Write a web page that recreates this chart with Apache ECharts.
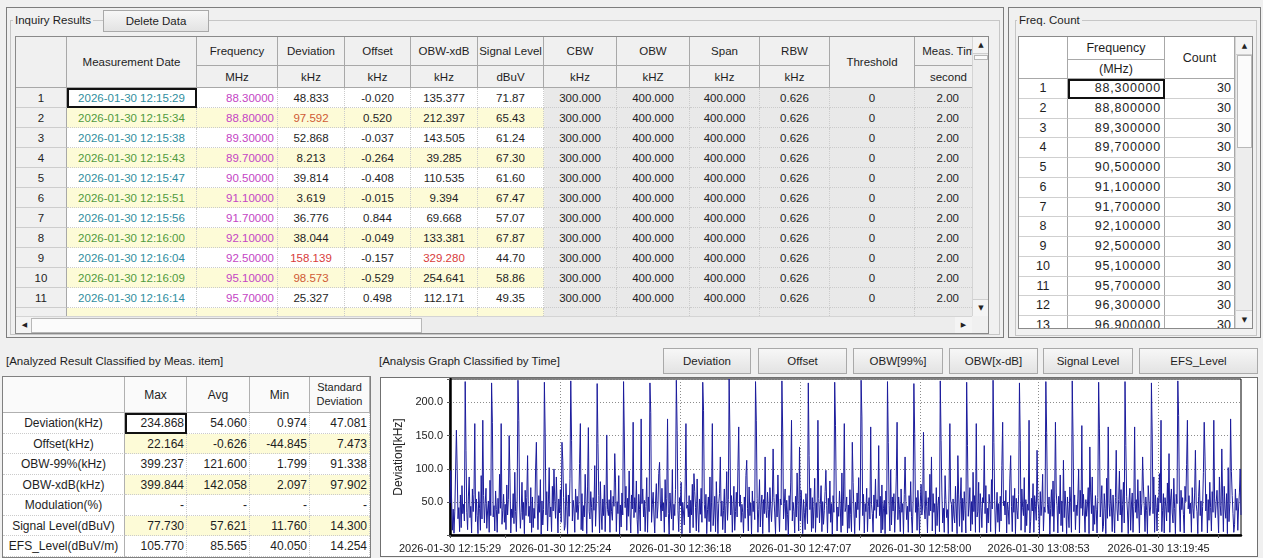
<!DOCTYPE html>
<html>
<head>
<meta charset="utf-8">
<title>Inquiry Results</title>
<script src="https://cdn.jsdelivr.net/npm/echarts@6/dist/echarts.min.js"></script>
<style>
html, body { margin: 0; padding: 0; }
body {
  width: 1263px; height: 558px; overflow: hidden; position: relative;
  background: #f0f0f0; color: #1e1e1e;
  font-family: "Liberation Sans", Arial, sans-serif; font-size: 11.5px;
}
.abs { position: absolute; box-sizing: border-box; }
.c { position: absolute; box-sizing: border-box; white-space: nowrap; overflow: hidden; text-align: center; }
.frame { border: 1px solid #7d7d7d; }
.group { border: 1px solid #c6c6c6; }
.glabel { position: absolute; background: #f0f0f0; padding: 0 2px; line-height: 14px; }
.btn {
  position: absolute; box-sizing: border-box; text-align: center;
  border: 1px solid #a9a9a9; background: linear-gradient(#f7f7f7, #e3e3e3);
}
.view { position: absolute; overflow: hidden; background: #fff; }
.hd { background: #f0f0f0; border-right: 1px solid #a8a8a8; border-bottom: 1px solid #a8a8a8; }
.rh { background: #f0f0f0; border-right: 1px solid #a8a8a8; border-bottom: 1px solid #cdcdcd; }
.dc { border-right: 1px dotted #cbcbcb; border-bottom: 1px dotted #cbcbcb; }
.sel { outline: 2px solid #111; outline-offset: -2px; }
.arrow { font-family: "DejaVu Sans", sans-serif; font-size: 7px; color: #222; }
.label { position: absolute; white-space: nowrap; }
</style>
</head>
<body>

<div class="abs frame" style="left:6px;top:7px;width:998px;height:331px;"></div>
<div class="abs group" style="left:10px;top:20px;width:990px;height:315px;"></div>
<div class="glabel" style="left:13px;top:13px;">Inquiry Results</div>
<div class="btn" style="left:103px;top:10px;width:106px;height:22px;line-height:20px;">Delete Data</div>

<div class="abs frame" style="left:1008px;top:7px;width:253px;height:331px;"></div>
<div class="abs group" style="left:1015px;top:20px;width:242px;height:316px;"></div>
<div class="glabel" style="left:1017px;top:13px;">Freq. Count</div>

<div class="label" style="left:6px;top:355px;">[Analyzed Result Classified by Meas. item]</div>
<div class="label" style="left:379px;top:355px;">[Analysis Graph Classified by Time]</div>

<div class="abs" style="left:380px;top:377px;width:878px;height:180px;border:1px solid #707070;background:#fff;">
  <div id="chart" style="position:absolute;left:0;top:0;width:876px;height:178px;"></div>
</div>

<script>
// ---- inquiry results table ----
var measDates = ["2026-01-30 12:15:29", "2026-01-30 12:15:34", "2026-01-30 12:15:38", "2026-01-30 12:15:43",
  "2026-01-30 12:15:47", "2026-01-30 12:15:51", "2026-01-30 12:15:56", "2026-01-30 12:16:00",
  "2026-01-30 12:16:04", "2026-01-30 12:16:09", "2026-01-30 12:16:14"];
var measFreq = ["88.30000", "88.80000", "89.30000", "89.70000", "90.50000", "91.10000",
  "91.70000", "92.10000", "92.50000", "95.10000", "95.70000"];
var measDev = ["48.833", "97.592", "52.868", "8.213", "39.814", "3.619", "36.776", "38.044", "158.139", "98.573", "25.327"];
var measOffset = ["-0.020", "0.520", "-0.037", "-0.264", "-0.408", "-0.015", "0.844", "-0.049", "-0.157", "-0.529", "0.498"];
var measObwXdb = ["135.377", "212.397", "143.505", "39.285", "110.535", "9.394", "69.668", "133.381", "329.280", "254.641", "112.171"];
var measLevel = ["71.87", "65.43", "61.24", "67.30", "61.60", "67.47", "57.07", "67.87", "44.70", "58.86", "49.35"];
var measCbw = "300.000", measObw = "400.000", measSpan = "400.000", measRbw = "0.626", measThreshold = "0", measTime = "2.00";
var headTop = ["", "Measurement Date", "Frequency", "Deviation", "Offset", "OBW-xdB", "Signal Level",
  "CBW", "OBW", "Span", "RBW", "Threshold", "Meas. Time"];
var headUnit = [null, null, "MHz", "kHz", "kHz", "kHz", "dBuV", "kHz", "kHZ", "kHz", "kHz", null, "second"];

// ---- freq. count table ----
var countFreqs = ["88,300000", "88,800000", "89,300000", "89,700000", "90,500000", "91,100000", "91,700000",
  "92,100000", "92,500000", "95,100000", "95,700000", "96,300000", "96,900000"];
var countValues = [30, 30, 30, 30, 30, 30, 30, 30, 30, 30, 30, 30, 30];

// ---- analyzed result table ----
var statItems = ["Deviation(kHz)", "Offset(kHz)", "OBW-99%(kHz)", "OBW-xdB(kHz)", "Modulation(%)", "Signal Level(dBuV)", "EFS_Level(dBuV/m)"];
var statMax = ["234.868", "22.164", "399.237", "399.844", "-", "77.730", "105.770"];
var statAvg = ["54.060", "-0.626", "121.600", "142.058", "-", "57.621", "85.565"];
var statMin = ["0.974", "-44.845", "1.799", "2.097", "-", "11.760", "40.050"];
var statStd = ["47.081", "7.473", "91.338", "97.902", "-", "14.300", "14.254"];

// ---- graph: deviation per sweep (33 frequencies x 30 sweeps) ----
var deviationSweeps = [
  [48.8, 97.6, 52.9, 8.2, 39.8, 3.6, 36.8, 38.0, 158.1, 98.6, 25.3, 42, 6, 61, 12, 75, 33, 47, 22, 231, 128, 35, 9, 58, 88, 27, 44, 4, 70, 36, 62, 168, 21],
  [55, 30, 3, 66, 41, 8, 90, 25, 173, 60, 19, 48, 71, 11, 37, 52, 5, 83, 30, 229, 170, 28, 45, 7, 67, 39, 5, 56, 33, 92, 41, 168, 17],
  [38, 62, 20, 47, 9, 76, 31, 54, 150, 85, 4, 40, 27, 63, 18, 95, 36, 6, 58, 233, 173, 46, 11, 35, 80, 24, 50, 3, 68, 30, 57, 120, 29],
  [44, 19, 72, 5, 58, 12, 41, 26, 100, 140, 48, 9, 60, 35, 84, 2, 52, 16, 39, 230, 154, 31, 66, 7, 49, 102, 28, 43, 6, 74, 37, 100, 51],
  [26, 88, 40, 4, 55, 34, 69, 20, 140, 113, 57, 8, 15, 78, 44, 3, 61, 29, 86, 232, 143, 22, 53, 40, 5, 70, 35, 59, 24, 47, 108, 168, 9],
  [63, 7, 45, 28, 92, 50, 3, 73, 162, 36, 25, 66, 42, 5, 57, 38, 105, 14, 48, 228, 138, 60, 4, 81, 34, 9, 55, 30, 76, 6, 45, 151, 39],
  [30, 54, 5, 68, 36, 23, 59, 44, 123, 79, 6, 51, 33, 90, 2, 46, 13, 64, 31, 231, 148, 42, 74, 8, 56, 29, 97, 37, 4, 61, 40, 170, 27],
  [57, 35, 82, 24, 3, 62, 39, 7, 175, 48, 70, 28, 53, 6, 44, 87, 5, 58, 36, 229, 185, 20, 47, 65, 31, 4, 52, 78, 26, 43, 93, 110, 49],
  [22, 71, 37, 49, 5, 84, 28, 56, 175, 33, 2, 64, 40, 25, 99, 8, 47, 30, 69, 233, 158, 38, 6, 57, 45, 80, 3, 50, 34, 16, 73, 168, 41],
  [46, 28, 60, 4, 53, 31, 77, 12, 93, 66, 42, 7, 85, 37, 5, 55, 32, 71, 20, 230, 188, 47, 26, 62, 3, 39, 58, 21, 88, 6, 50, 168, 15],
  [34, 59, 6, 81, 40, 3, 48, 63, 118, 29, 52, 9, 38, 70, 4, 45, 96, 23, 54, 234.868, 150, 31, 60, 5, 43, 74, 8, 36, 65, 28, 102, 163, 44],
  [61, 20, 47, 35, 4, 58, 26, 90, 113, 41, 7, 73, 30, 49, 2, 67, 36, 52, 24, 231, 173, 56, 5, 39, 84, 13, 46, 61, 3, 54, 33, 118, 38],
  [27, 65, 39, 5, 72, 43, 21, 50, 130, 57, 34, 3, 62, 28, 91, 40, 6, 55, 46, 232, 155, 25, 48, 70, 8, 53, 32, 0.974, 60, 38, 79, 173, 22],
  [50, 36, 4, 59, 28, 94, 45, 7, 133, 22, 68, 40, 3, 54, 35, 9, 63, 42, 18, 229, 120, 39, 71, 6, 57, 11, 44, 86, 5, 49, 27, 173, 56],
  [19, 47, 75, 6, 51, 17, 38, 66, 98, 45, 4, 56, 33, 82, 20, 48, 2, 60, 35, 230, 165, 52, 7, 43, 29, 67, 40, 5, 94, 15, 58, 168, 36],
  [42, 58, 4, 46, 11, 69, 32, 6, 140, 80, 37, 3, 50, 27, 64, 39, 87, 8, 55, 233, 178, 30, 62, 4, 48, 36, 71, 6, 44, 57, 25, 163, 47],
  [33, 5, 61, 38, 85, 26, 54, 43, 135, 30, 59, 4, 76, 9, 41, 53, 3, 67, 32, 231, 140, 45, 7, 99, 16, 58, 37, 63, 5, 40, 88, 170, 24],
  [58, 39, 6, 70, 35, 48, 3, 62, 118, 51, 24, 44, 5, 60, 36, 81, 29, 4, 50, 228, 153, 35, 57, 8, 68, 42, 3, 49, 77, 31, 46, 155, 40],
  [25, 67, 44, 4, 57, 30, 92, 37, 118, 7, 63, 35, 48, 2, 72, 15, 45, 58, 6, 232, 143, 64, 19, 41, 5, 90, 54, 27, 39, 3, 70, 168, 52],
  [47, 6, 55, 31, 19, 74, 40, 3, 120, 61, 14, 52, 87, 5, 56, 23, 66, 38, 4, 230, 135, 29, 46, 72, 7, 51, 17, 95, 36, 60, 5, 168, 28],
  [36, 80, 5, 63, 42, 12, 57, 49, 135, 33, 75, 4, 41, 19, 62, 47, 6, 84, 40, 233, 140, 53, 3, 37, 65, 20, 48, 6, 59, 22, 105, 170, 45],
  [52, 31, 68, 4, 50, 39, 17, 85, 120, 44, 6, 60, 35, 71, 3, 56, 38, 25, 62, 229, 143, 8, 70, 42, 30, 87, 5, 54, 15, 47, 38, 173, 4],
  [21, 56, 37, 78, 5, 60, 44, 23, 128, 52, 40, 3, 66, 30, 49, 92, 7, 43, 35, 231, 155, 47, 33, 58, 2, 41, 69, 29, 82, 6, 55, 170, 64],
  [45, 4, 59, 33, 91, 15, 52, 6, 113, 27, 67, 43, 3, 58, 34, 12, 73, 50, 5, 232, 148, 36, 61, 9, 46, 30, 55, 100, 4, 68, 41, 165, 30],
  [62, 37, 5, 54, 29, 46, 72, 3, 133, 64, 33, 88, 7, 45, 17, 60, 39, 4, 57, 230, 160, 28, 49, 75, 6, 14, 63, 41, 3, 86, 26, 163, 48],
  [29, 70, 43, 6, 61, 34, 4, 57, 128, 40, 22, 54, 97, 31, 69, 5, 47, 80, 19, 231, 135, 59, 37, 3, 52, 71, 8, 46, 64, 5, 44, 163, 35],
  [54, 26, 84, 40, 4, 67, 31, 48, 118, 73, 45, 6, 58, 38, 3, 75, 52, 30, 43, 229, 150, 33, 88, 5, 61, 42, 7, 57, 36, 93, 49, 173, 6],
  [38, 63, 4, 57, 44, 22, 79, 35, 123, 5, 55, 70, 34, 19, 86, 41, 3, 62, 48, 232, 180, 46, 6, 68, 39, 57, 32, 4, 74, 51, 107, 173, 40],
  [60, 33, 49, 5, 72, 41, 26, 64, 128, 47, 36, 3, 59, 83, 30, 52, 6, 44, 95, 170, 118, 37, 62, 4, 54, 23, 80, 42, 7, 66, 35, 173, 55],
  [27, 51, 68, 37, 4, 88, 45, 30, 130, 58, 6, 74, 40, 26, 63, 3, 102, 21, 48, 175, 96, 60, 33, 5, 17, 70, 38, 56, 8, 43, 64, 100, 31]
];
var tickLabels = ["2026-01-30 12:15:29", "2026-01-30 12:25:24", "2026-01-30 12:36:18", "2026-01-30 12:47:07",
  "2026-01-30 12:58:00", "2026-01-30 13:08:53", "2026-01-30 13:19:45"];
var labelIndex = [0, 138, 288, 438, 588, 736, 886];
var tickIndex = [0, 69, 138, 213, 288, 363, 438, 513, 588, 663, 736, 811, 886, 961];
var yMin = 0.974, yMax = 234.868;
var buttonNames = ["Deviation", "Offset", "OBW[99%]", "OBW[x-dB]", "Signal Level", "EFS_Level"];

// ---------- helpers ----------
function cell(parent, x, y, w, h, text, cls, css) {
  var d = document.createElement("div");
  d.className = "c " + (cls || "");
  d.style.cssText = "left:" + x + "px;top:" + y + "px;width:" + w + "px;height:" + h + "px;line-height:" + h + "px;" + (css || "");
  d.textContent = text;
  parent.appendChild(d);
  return d;
}
function view(x, y, w, h, css) {
  var d = document.createElement("div");
  d.className = "view";
  d.style.cssText = "left:" + x + "px;top:" + y + "px;width:" + w + "px;height:" + h + "px;" + (css || "");
  document.body.appendChild(d);
  return d;
}
function vScroll(x, y, w, h, thumbTop, thumbH) {
  var s = view(x, y, w, h, "background:#ededed;border-left:1px solid #d4d4d4;");
  cell(s, 0, 0, w, w + 1, "\u25B2", "arrow", "background:#f4f4f4;border-bottom:1px solid #cfcfcf;");
  cell(s, 0, h - w - 1, w, w + 1, "\u25BC", "arrow", "background:#f4f4f4;border-top:1px solid #cfcfcf;");
  cell(s, 1, thumbTop, w - 2, thumbH, "", "", "background:#fbfbfb;border:1px solid #b8b8b8;");
}
function hScroll(x, y, w, h, thumbLeft, thumbW) {
  var s = view(x, y, w, h, "background:#ededed;border-top:1px solid #d4d4d4;");
  cell(s, 0, 0, h, h, "\u25C0", "arrow", "background:#f4f4f4;");
  cell(s, w - h, 0, h, h, "\u25B6", "arrow", "background:#f4f4f4;");
  cell(s, thumbLeft, 1, thumbW, h - 2, "", "", "background:#fbfbfb;border:1px solid #b8b8b8;");
}

// ---------- inquiry results grid ----------
(function () {
  var colW = [51, 130, 81, 67, 66, 67, 66, 73, 73, 70, 70, 85, 75];
  var v = view(16, 37, 956, 279);
  var x = 0;
  var colX = colW.map(function (w) { var p = x; x += w; return p; });
  headTop.forEach(function (t, i) {
    if (headUnit[i] === null) {
      cell(v, colX[i], 0, colW[i], 51, t, "hd");
    } else {
      cell(v, colX[i], 0, colW[i], 29, t, "hd");
      cell(v, colX[i], 29, colW[i], 22, headUnit[i], "hd", i === 12 ? "text-align:right;padding-right:22px;" : "");
    }
  });
  var highlight = { "1-3": "#cf5a34", "8-3": "#d83b3b", "9-3": "#cf5a34", "8-5": "#d83b3b" };
  for (var r = 0; r < 12; r++) {
    var y = 51 + r * 20;
    var yellow = r % 2 === 1;
    var bg = yellow ? "background:#fdfbd7;" : "background:#fff;";
    var grey = "background:#e9e9e9;";
    var full = r < measDates.length;
    cell(v, colX[0], y, colW[0], 20, full ? String(r + 1) : "", "rh");
    var vals = full ? [measDates[r], measFreq[r], measDev[r], measOffset[r], measObwXdb[r], measLevel[r],
      measCbw, measObw, measSpan, measRbw, measThreshold, measTime] : ["", "", "", "", "", "", "", "", "", "", "", ""];
    vals.forEach(function (t, j) {
      var c = j + 1;
      var css = c <= 6 ? bg : grey;
      if (c === 1) css += "color:" + (yellow ? "#4f9a3e" : "#2f8e9e") + ";";
      if (c === 2) css += "color:#c445c4;text-align:right;padding-right:3px;";
      if (c === 12) css += "text-align:right;padding-right:30px;";
      var key = r + "-" + c;
      if (highlight[key]) css += "color:" + highlight[key] + ";";
      var d = cell(v, colX[c], y, colW[c], 20, t, "dc", css);
      if (r === 0 && c === 1) d.classList.add("sel");
    });
  }
  vScroll(972, 37, 16, 279, 18, 5);
  hScroll(16, 316, 956, 17, 15, 391);
  cell(document.body, 972, 316, 16, 17, "", "", "background:#f0f0f0;");
  cell(document.body, 15, 36, 974, 298, "", "", "border:1px solid #8a8a8a;");
})();

// ---------- freq. count grid ----------
(function () {
  var v = view(1019, 37, 216, 291, "font-size:12.5px;");
  cell(v, 0, 0, 49, 42, "", "hd", "background:#fff;");
  cell(v, 49, 0, 97, 23, "Frequency", "hd", "background:#fff;");
  cell(v, 49, 23, 97, 19, "(MHz)", "hd", "background:#fff;");
  cell(v, 146, 0, 70, 42, "Count", "hd", "background:#fff;");
  countFreqs.forEach(function (f, i) {
    var y = 42 + i * 19.75;
    cell(v, 0, y, 49, 19.75, String(i + 1), "hd", "background:#fff;border-bottom-color:#cfcfcf;");
    var d = cell(v, 49, y, 97, 19.75, f, "hd", "background:#fff;text-align:right;padding-right:3px;letter-spacing:0.8px;border-bottom-color:#cfcfcf;");
    if (i === 0) d.classList.add("sel");
    cell(v, 146, y, 70, 19.75, String(countValues[i]), "hd", "background:#fff;text-align:right;padding-right:3px;border-bottom-color:#cfcfcf;");
  });
  vScroll(1235, 37, 17, 291, 18, 93);
  cell(document.body, 1018, 36, 235, 293, "", "", "border:1px solid #8a8a8a;");
})();

// ---------- analyzed result table ----------
(function () {
  var colW = [122, 62, 63, 60, 60];
  var v = view(3, 377, 367, 180, "font-size:12px;");
  var heads = ["", "Max", "Avg", "Min", "Standard<br>Deviation"];
  var x = 0;
  heads.forEach(function (t, i) {
    var d = cell(v, x, 0, colW[i], 36, "", "hd", "background:#fafafa;border-color:#b0b0b0;");
    if (i === 4) {
      d.style.lineHeight = "14px";
      d.style.paddingTop = "3px";
      d.style.fontSize = "11px";
      d.innerHTML = t;
    } else {
      d.textContent = t;
    }
    x += colW[i];
  });
  var rowH = 144 / 7;
  statItems.forEach(function (name, r) {
    var y = 36 + r * rowH;
    var bg = r % 2 === 1 ? "background:#fdfbd7;" : "background:#fff;";
    cell(v, 0, y, colW[0], rowH, name, "dc", "background:#fff;border-right:1px solid #b0b0b0;");
    var vals = [statMax[r], statAvg[r], statMin[r], statStd[r]];
    var cx = colW[0];
    vals.forEach(function (t, j) {
      var d = cell(v, cx, y, colW[j + 1], rowH, t, "dc", bg + "text-align:right;padding-right:2px;");
      if (r === 0 && j === 0) d.classList.add("sel");
      cx += colW[j + 1];
    });
  });
  cell(document.body, 2, 376, 369, 182, "", "", "border:1px solid #808080;");
})();

// ---------- graph buttons ----------
(function () {
  var btnX = [663, 758, 853, 949, 1043, 1139];
  var btnW = [88, 89, 90, 89, 90, 119];
  buttonNames.forEach(function (n, i) {
    var b = document.createElement("div");
    b.className = "btn";
    b.style.cssText = "left:" + btnX[i] + "px;top:348px;width:" + btnW[i] + "px;height:26px;line-height:24px;";
    b.textContent = n;
    document.body.appendChild(b);
  });
})();

// ---------- deviation graph ----------
function initGraph() {
  var chartDom = document.getElementById("chart");
  var myChart = echarts.init(chartDom, null, { renderer: "canvas" });
  var values = [].concat.apply([], deviationSweeps);
  var sampleNo = values.map(function (v, i) { return i + 1; });
  var font = "Liberation Sans";
  var option = {
    animation: false,
    grid: { left: 69, top: 1, right: 16, bottom: 21, show: true, borderColor: "#000", borderWidth: 1 },
    xAxis: {
      type: "category",
      data: sampleNo,
      boundaryGap: false,
      axisLine: { lineStyle: { color: "#000", width: 2.5 } },
      axisTick: {
        show: true, length: 3,
        interval: function (i) { return tickIndex.indexOf(i) >= 0; },
        lineStyle: { color: "#555" }
      },
      axisLabel: {
        interval: function (i) { return labelIndex.indexOf(i) >= 0; },
        formatter: function (v, i) {
          var k = labelIndex.indexOf(i);
          return k >= 0 ? tickLabels[k] : "";
        },
        color: "#222", fontSize: 11, fontFamily: font, margin: 8
      },
      splitLine: {
        show: true,
        interval: function (i) { return labelIndex.indexOf(i) >= 0; },
        lineStyle: { color: "#8c8c8c", type: [1, 2] }
      }
    },
    yAxis: {
      type: "value",
      min: yMin,
      max: yMax,
      splitNumber: 5,
      name: "Deviation[kHz]",
      nameLocation: "middle",
      nameGap: 37,
      nameTextStyle: { color: "#222", fontSize: 12, fontFamily: font },
      axisLine: { show: true, lineStyle: { color: "#000", width: 2.5 } },
      axisTick: { show: true, length: 3, lineStyle: { color: "#555" } },
      axisLabel: {
        formatter: function (v) { return Math.abs(v % 50) < 1e-6 ? v.toFixed(1) : ""; },
        color: "#222", fontSize: 11, fontFamily: font, margin: 7
      },
      splitLine: { show: true, lineStyle: { color: "#8c8c8c", type: [1, 2] } }
    },
    series: [
      {
        type: "line",
        data: values,
        symbol: "none",
        silent: true,
        lineStyle: { color: "#1c1c9c", width: 1 },
        itemStyle: { color: "#1c1c9c" }
      }
    ]
  };
  option && myChart.setOption(option);
}
initGraph();
</script>
</body>
</html>
